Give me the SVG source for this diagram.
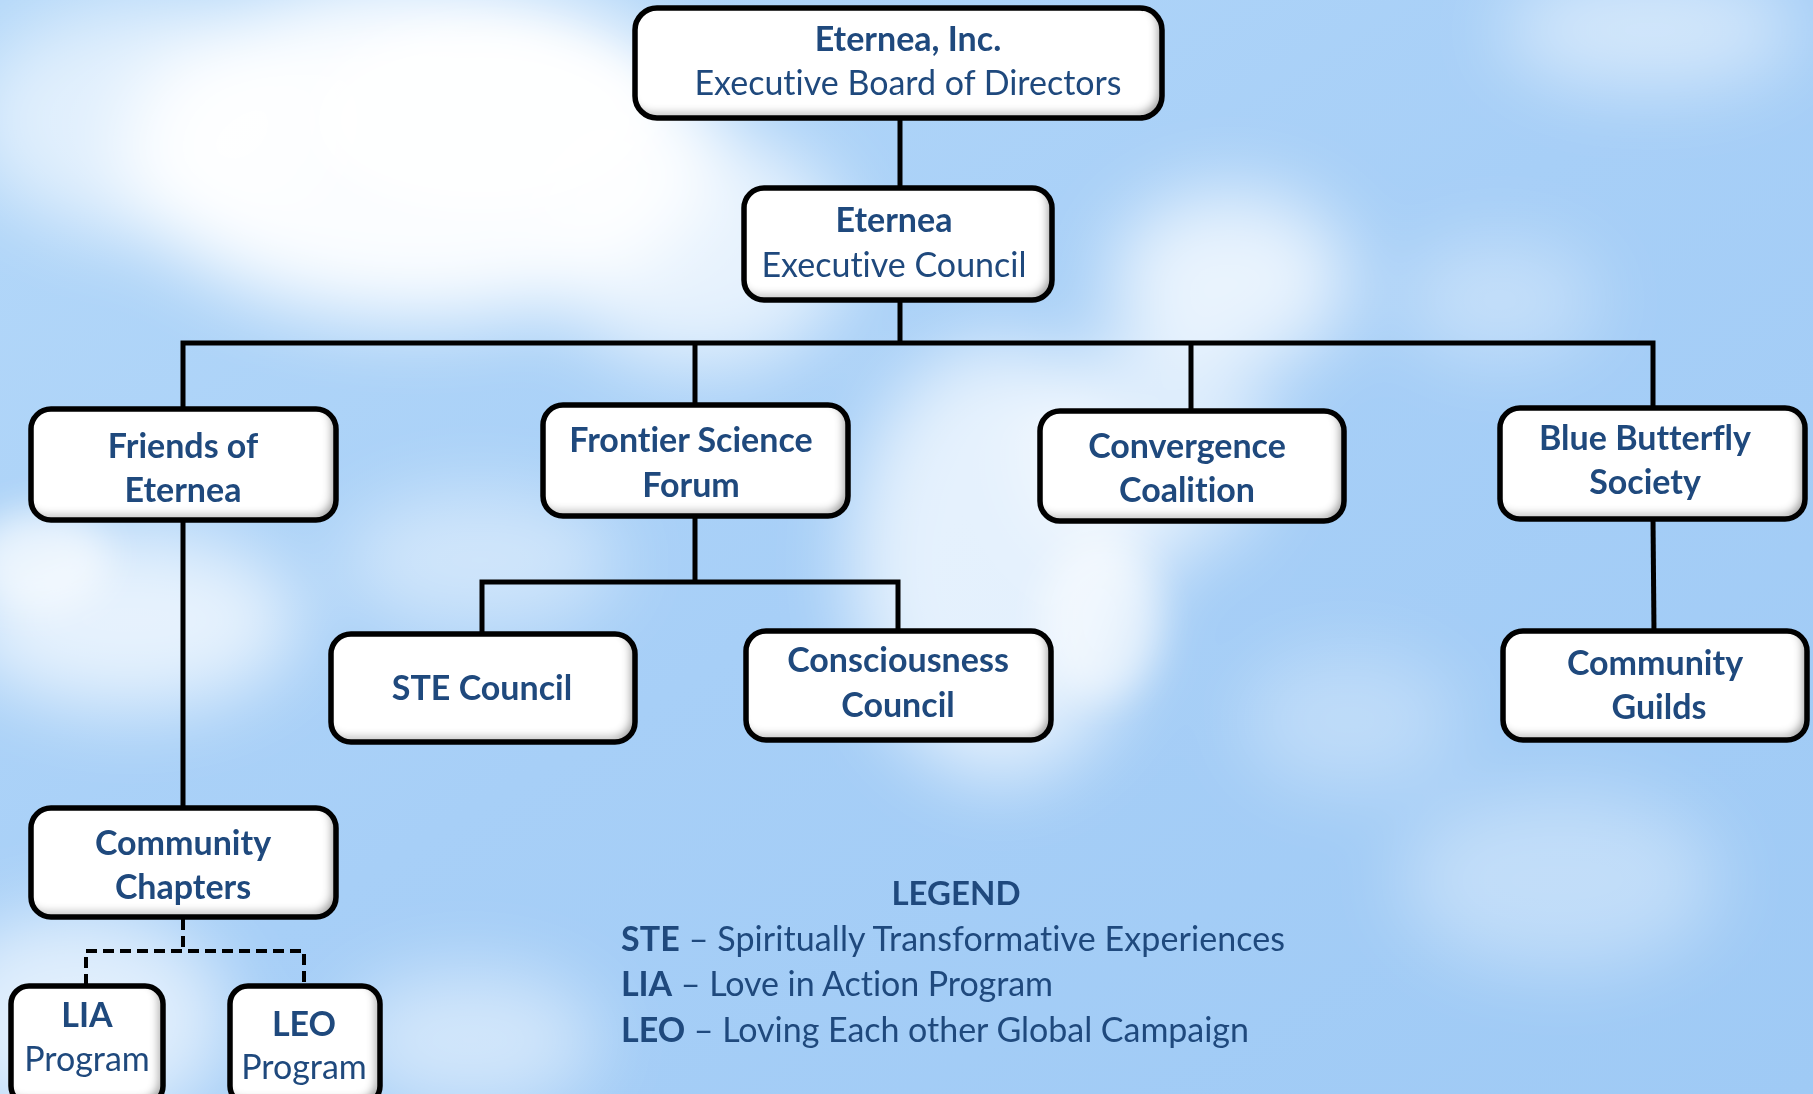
<svg xmlns="http://www.w3.org/2000/svg" width="1813" height="1094" viewBox="0 0 1813 1094">
  <defs>
    <linearGradient id="sky" x1="0" y1="0" x2="1" y2="1">
      <stop offset="0" stop-color="#b4d8f9"/>
      <stop offset="0.5" stop-color="#a7cff7"/>
      <stop offset="1" stop-color="#9fcaf5"/>
    </linearGradient>
    <filter id="cloudBlur" x="-20%" y="-20%" width="140%" height="140%">
      <feGaussianBlur stdDeviation="38"/>
    </filter>
    <filter id="cloudBlurS" x="-30%" y="-30%" width="160%" height="160%">
      <feGaussianBlur stdDeviation="18"/>
    </filter>
    <filter id="inner" x="-5%" y="-5%" width="110%" height="110%">
      <feFlood flood-color="#000" flood-opacity="0.65"/>
      <feComposite in2="SourceAlpha" operator="out"/>
      <feGaussianBlur stdDeviation="4"/>
      <feOffset dx="-5" dy="-5"/>
      <feComposite in2="SourceAlpha" operator="in" result="sh"/>
      <feMerge><feMergeNode in="SourceGraphic"/><feMergeNode in="sh"/></feMerge>
    </filter>
    <style>
      text { font-variant-ligatures: none; font-feature-settings: "liga" 0, "clig" 0, "dlig" 0; }
      .box-fill { fill: #ffffff; filter: url(#inner); }
      .box-line { fill: none; stroke: #000; stroke-width: 5.5; }
      .t { font-family: Lato, "Open Sans", "Liberation Sans", sans-serif; font-size: 34px; fill: #1f497d; text-anchor: middle; }
      .b { font-weight: bold; }
      .lg { font-family: Lato, "Open Sans", "Liberation Sans", sans-serif; font-size: 34px; fill: #1f497d; }
      .lgh { font-size: 33px; }
      .conn { fill: none; stroke: #000; stroke-width: 5; }
      .dash { fill: none; stroke: #000; stroke-width: 4; stroke-dasharray: 11 6; }
    </style>
  </defs>

  <!-- background sky -->
  <g id="background">
    <rect x="0" y="0" width="1813" height="1094" fill="url(#sky)"/>
    <g filter="url(#cloudBlur)" fill="#ffffff">
      <ellipse cx="420" cy="150" rx="300" ry="170" opacity="0.95"/>
      <ellipse cx="150" cy="120" rx="180" ry="120" opacity="0.6"/>
      <ellipse cx="700" cy="250" rx="150" ry="120" opacity="0.7"/>
      <ellipse cx="1230" cy="280" rx="120" ry="90" opacity="0.75"/>
      <ellipse cx="1000" cy="560" rx="150" ry="220" opacity="0.7"/>
      <ellipse cx="1150" cy="450" rx="120" ry="110" opacity="0.6"/>
      <ellipse cx="130" cy="620" rx="170" ry="90" opacity="0.7"/>
      <ellipse cx="480" cy="560" rx="140" ry="70" opacity="0.45"/>
      <ellipse cx="80" cy="1020" rx="150" ry="110" opacity="0.65"/>
      <ellipse cx="470" cy="1040" rx="130" ry="70" opacity="0.5"/>
      <ellipse cx="1650" cy="30" rx="150" ry="60" opacity="0.5"/>
      <ellipse cx="1560" cy="880" rx="160" ry="90" opacity="0.35"/>
      <ellipse cx="1350" cy="720" rx="110" ry="70" opacity="0.3"/>
      <ellipse cx="1500" cy="300" rx="100" ry="60" opacity="0.35"/>
    </g>
    <g filter="url(#cloudBlurS)" fill="#ffffff">
      <ellipse cx="480" cy="120" rx="170" ry="90" opacity="0.8"/>
      <ellipse cx="1100" cy="620" rx="60" ry="80" opacity="0.5"/>
      <ellipse cx="40" cy="560" rx="70" ry="50" opacity="0.6"/>
    </g>
  </g>

  <!-- connectors -->
  <g id="connectors">
    <line class="conn" x1="900" y1="118" x2="900" y2="189"/>
    <line class="conn" x1="900" y1="300" x2="900" y2="343"/>
    <polyline class="conn" points="183,410 183,343 1653,343 1653,409"/>
    <line class="conn" x1="695" y1="343" x2="695" y2="407"/>
    <line class="conn" x1="1191" y1="343" x2="1191" y2="412"/>
    <line class="conn" x1="695" y1="516" x2="695" y2="582"/>
    <polyline class="conn" points="482,636 482,582 898,582 898,632"/>
    <line class="conn" x1="1653" y1="519" x2="1654" y2="632"/>
    <line class="conn" x1="183" y1="520" x2="183" y2="809"/>
    <line class="dash" x1="183" y1="919" x2="183" y2="951"/>
    <polyline class="dash" points="86,985 86,951 304,951 304,985"/>
  </g>

  <!-- nodes -->
  <g id="node-board">
    <rect class="box-fill" x="635" y="8" width="527" height="110" rx="22"/>
    <rect class="box-line" x="635" y="8" width="527" height="110" rx="22"/>
    <text class="t b" x="908" y="51">Eternea, Inc.</text>
    <text class="t" x="908" y="95">Executive Board of Directors</text>
  </g>

  <g id="node-council">
    <rect class="box-fill" x="744" y="188" width="308" height="112" rx="20"/>
    <rect class="box-line" x="744" y="188" width="308" height="112" rx="20"/>
    <text class="t b" x="894" y="232">Eternea</text>
    <text class="t" x="894" y="277">Executive Council</text>
  </g>

  <g id="node-friends">
    <rect class="box-fill" x="31" y="409" width="305" height="111" rx="20"/>
    <rect class="box-line" x="31" y="409" width="305" height="111" rx="20"/>
    <text class="t b" x="183" y="458">Friends of</text>
    <text class="t b" x="183" y="502">Eternea</text>
  </g>

  <g id="node-frontier">
    <rect class="box-fill" x="543" y="405" width="305" height="111" rx="20"/>
    <rect class="box-line" x="543" y="405" width="305" height="111" rx="20"/>
    <text class="t b" x="691" y="452">Frontier Science</text>
    <text class="t b" x="691" y="497">Forum</text>
  </g>

  <g id="node-convergence">
    <rect class="box-fill" x="1040" y="411" width="304" height="110" rx="20"/>
    <rect class="box-line" x="1040" y="411" width="304" height="110" rx="20"/>
    <text class="t b" x="1187" y="458">Convergence</text>
    <text class="t b" x="1187" y="502">Coalition</text>
  </g>

  <g id="node-bluebutterfly">
    <rect class="box-fill" x="1500" y="408" width="305" height="111" rx="20"/>
    <rect class="box-line" x="1500" y="408" width="305" height="111" rx="20"/>
    <text class="t b" x="1645" y="450">Blue Butterfly</text>
    <text class="t b" x="1645" y="494">Society</text>
  </g>

  <g id="node-ste">
    <rect class="box-fill" x="331" y="634" width="304" height="108" rx="20"/>
    <rect class="box-line" x="331" y="634" width="304" height="108" rx="20"/>
    <text class="t b" x="482" y="700">STE Council</text>
  </g>

  <g id="node-consciousness">
    <rect class="box-fill" x="746" y="631" width="305" height="109" rx="20"/>
    <rect class="box-line" x="746" y="631" width="305" height="109" rx="20"/>
    <text class="t b" x="898" y="672">Consciousness</text>
    <text class="t b" x="898" y="717">Council</text>
  </g>

  <g id="node-guilds">
    <rect class="box-fill" x="1503" y="631" width="304" height="109" rx="20"/>
    <rect class="box-line" x="1503" y="631" width="304" height="109" rx="20"/>
    <text class="t b" x="1655" y="675">Community</text>
    <text class="t b" x="1659" y="719">Guilds</text>
  </g>

  <g id="node-chapters">
    <rect class="box-fill" x="31" y="808" width="305" height="109" rx="20"/>
    <rect class="box-line" x="31" y="808" width="305" height="109" rx="20"/>
    <text class="t b" x="183" y="855">Community</text>
    <text class="t b" x="183" y="899">Chapters</text>
  </g>

  <g id="node-lia">
    <rect class="box-fill" x="11" y="986" width="152" height="118" rx="18"/>
    <rect class="box-line" x="11" y="986" width="152" height="118" rx="18"/>
    <text class="t b" x="87" y="1027">LIA</text>
    <text class="t" x="87" y="1071">Program</text>
  </g>

  <g id="node-leo">
    <rect class="box-fill" x="230" y="986" width="150" height="118" rx="18"/>
    <rect class="box-line" x="230" y="986" width="150" height="118" rx="18"/>
    <text class="t b" x="304" y="1036">LEO</text>
    <text class="t" x="304" y="1079">Program</text>
  </g>

  <!-- legend -->
  <g id="legend">
    <text class="lg lgh b" x="956" y="905" text-anchor="middle">LEGEND</text>
    <text class="lg" x="621" y="951" textLength="664" lengthAdjust="spacing"><tspan font-weight="bold">STE</tspan> – Spiritually Transformative Experiences</text>
    <text class="lg" x="621" y="996" textLength="432" lengthAdjust="spacing"><tspan font-weight="bold">LIA</tspan> – Love in Action Program</text>
    <text class="lg" x="621" y="1042" textLength="628" lengthAdjust="spacing"><tspan font-weight="bold">LEO</tspan> – Loving Each other Global Campaign</text>
  </g>
</svg>
